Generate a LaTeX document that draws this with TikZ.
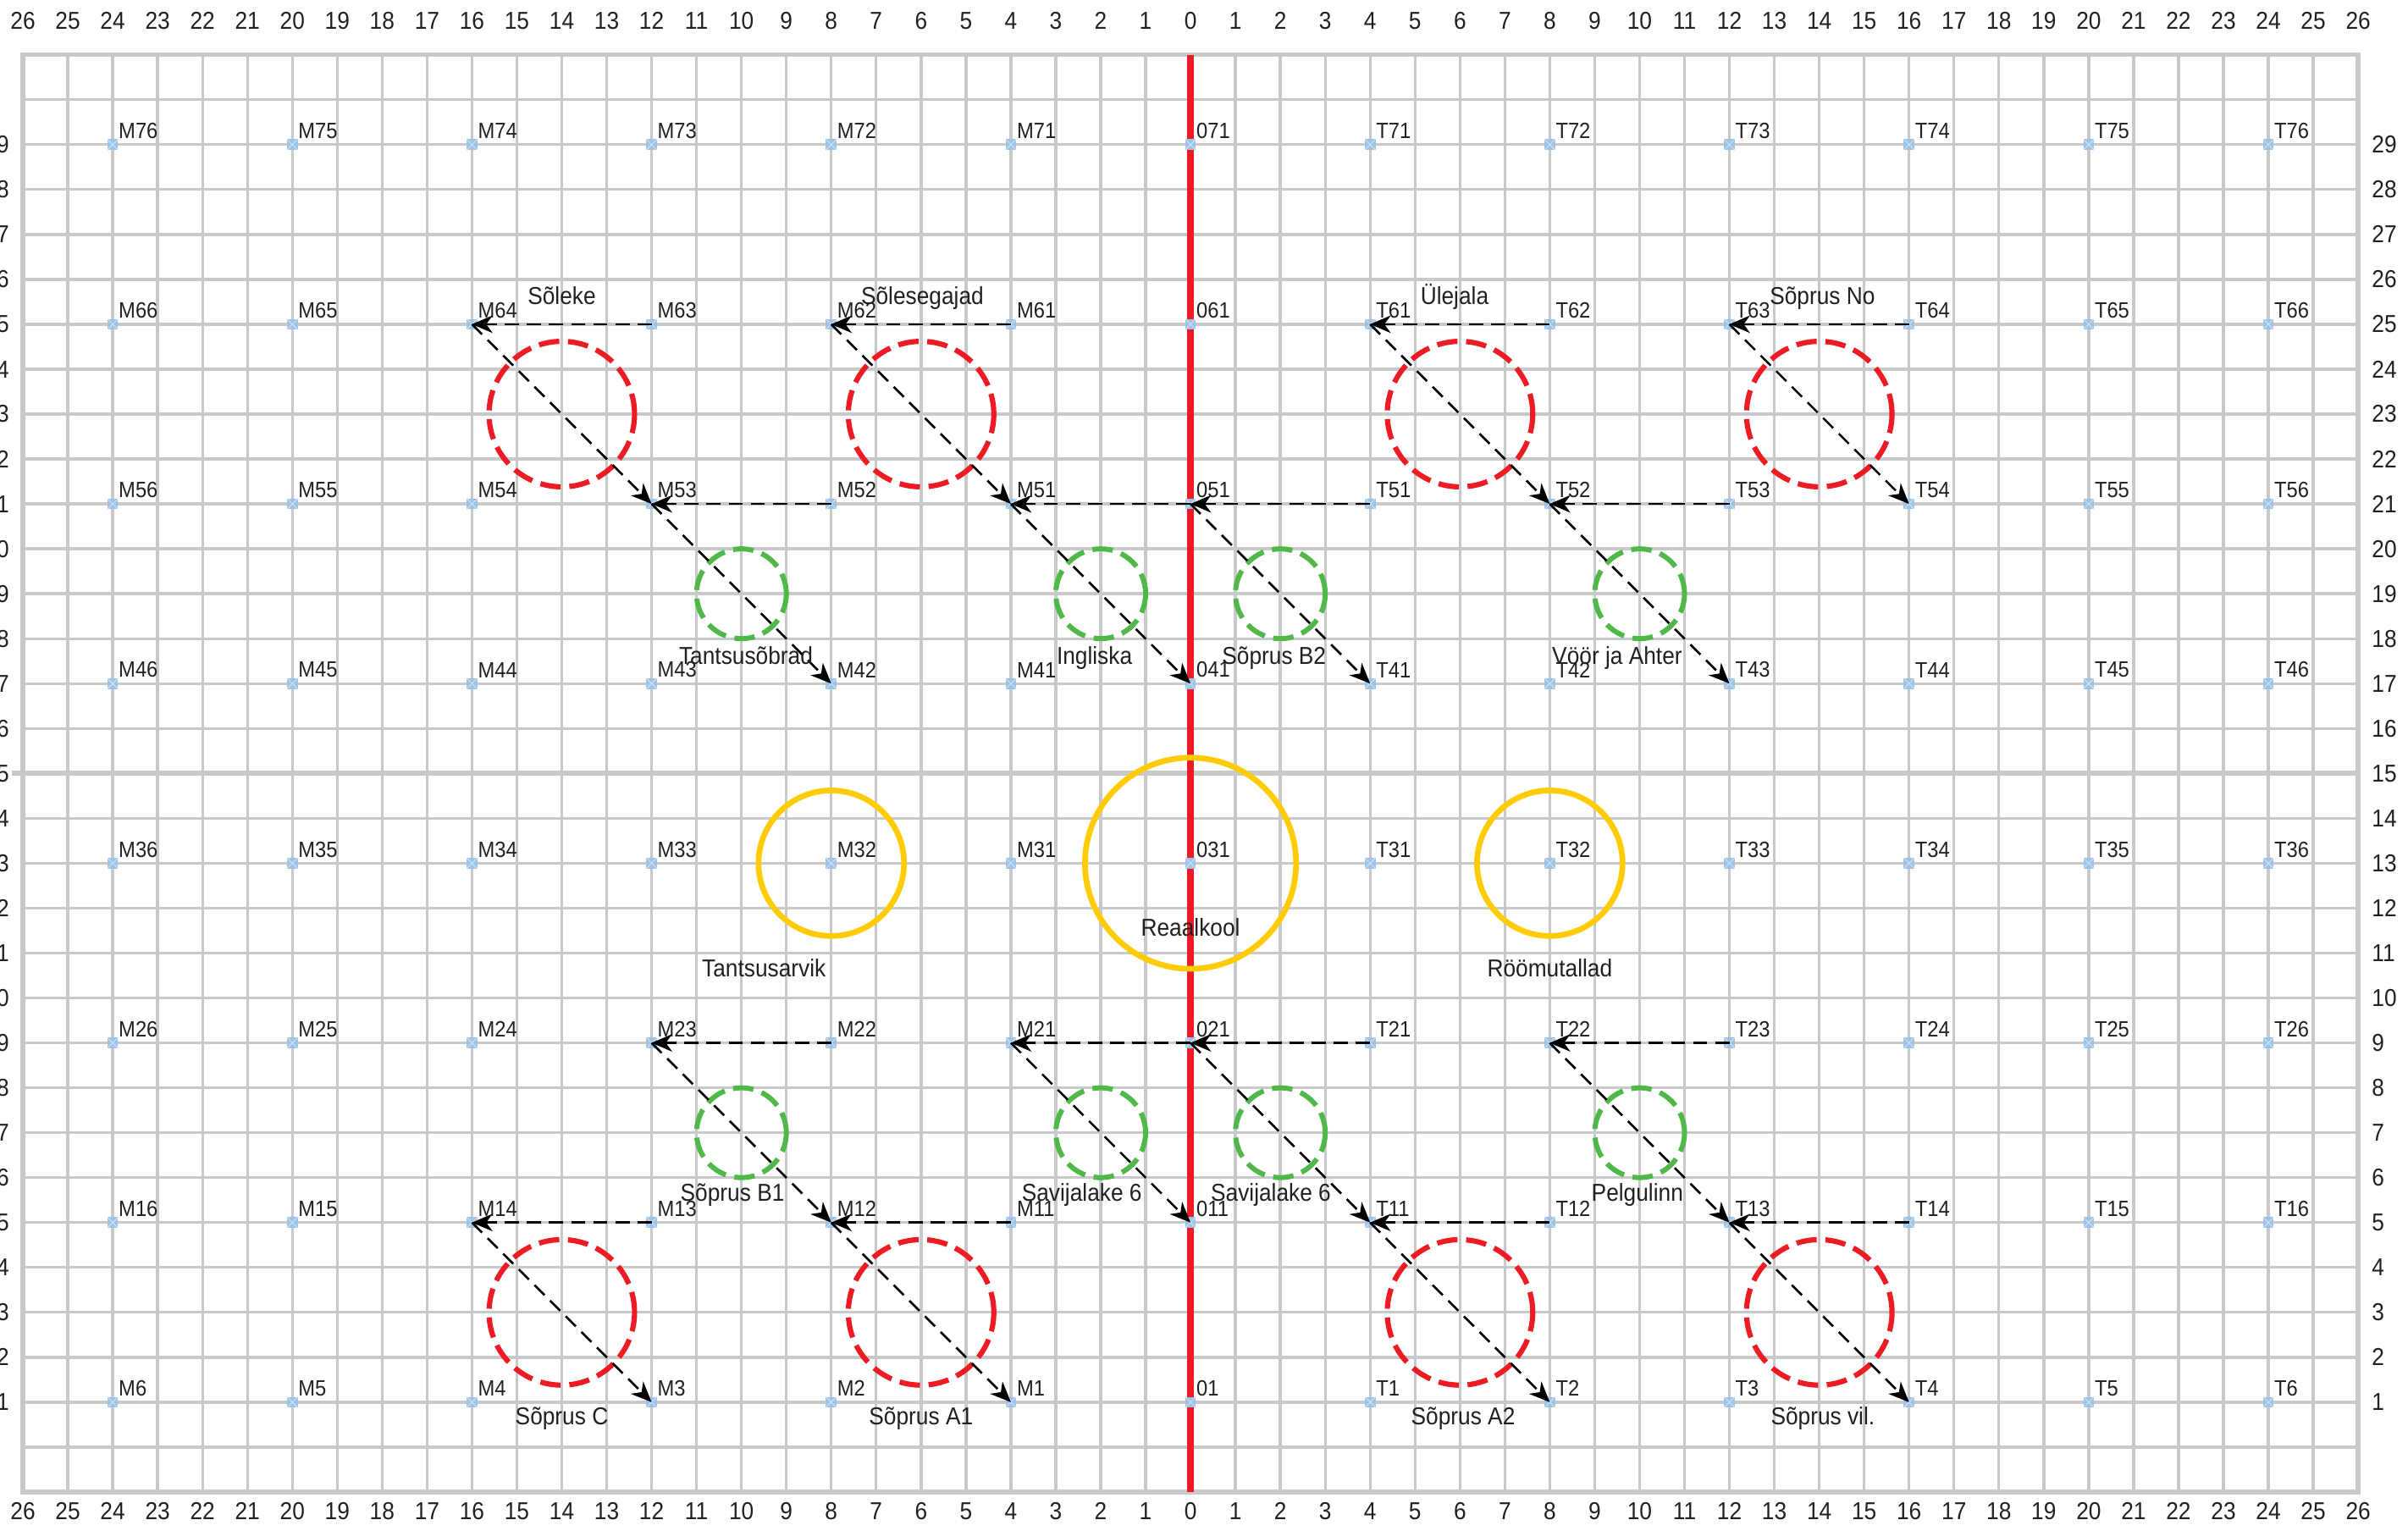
\documentclass[tikz,border=0pt]{standalone}
\usepackage{fontspec}
\setmainfont{Liberation Sans}[FakeStretch=0.91]
\usetikzlibrary{arrows.meta}
\definecolor{gridgray}{RGB}{200,201,202}
\definecolor{axisred}{RGB}{237,28,36}
\definecolor{zonegreen}{RGB}{80,184,72}
\definecolor{zoneyellow}{RGB}{255,203,5}
\definecolor{ptblue}{RGB}{157,195,230}
\definecolor{txt}{RGB}{35,31,32}

\begin{document}
\begin{tikzpicture}[
  every node/.style={text=txt},
  gridline/.style={draw=gridgray,line width=1.8pt},
  frame/.style={draw=gridgray,line width=3pt},
  axlbl/.style={font=\fontsize{15.5}{16}\selectfont,inner sep=0pt},
  ptlbl/.style={font=\fontsize{14}{15}\selectfont,inner sep=0pt},
  zonelbl/.style={font=\fontsize{15.5}{16}\selectfont,inner sep=0pt,anchor=base},
  pt/.style={rectangle,fill=ptblue,minimum size=0.24cm,inner sep=0pt,
    path picture={\draw[white!55!ptblue,line width=0.5pt]
      (path picture bounding box.south west) -- (path picture bounding box.north east)
      (path picture bounding box.north west) -- (path picture bounding box.south east);}},
  flow/.style={-{Stealth[length=13pt,width=11pt,inset=4pt]},line width=1.4pt,dash pattern=on 9pt off 5pt},
  redzone/.style={draw=axisred,line width=3.3pt,dash pattern=on 13pt off 5.5pt},
  greenzone/.style={draw=zonegreen,line width=3.2pt,dash pattern=on 13pt off 5.5pt},
  yellowzone/.style={draw=zoneyellow,line width=3.6pt}
]
\useasboundingbox (-26.51,-1.85) rectangle (27.11,32.22);

\draw[gridline] (-26,-1) grid (26,31);
\draw[frame] (-26,-1) rectangle (26,31);
\draw[frame,line width=3.4pt] (-26.25,15) -- (26,15);
\draw[draw=axisred,line width=3.9pt] (0,31) -- (0,-1);

\foreach \i in {-26,...,26} {
  \pgfmathtruncatemacro{\n}{abs(\i)}
  \pgfmathtruncatemacro{\k}{\i+26}
  \node[axlbl] (xt\k) at (\i,31.75) {\n};
  \node[axlbl] (xb\k) at (\i,-1.43) {\n};
}
\foreach \j in {1,...,29} {
  \node[axlbl,anchor=west] (yr\j) at (26.3,\j) {\j};
  \node[axlbl,anchor=east] (yl\j) at (-26.3,\j) {\j};
}

\foreach \x in {-14,-6,6,14} { \draw[redzone] (\x,23) circle (1.62); \draw[redzone] (\x,3) circle (1.62); }
\foreach \x in {-10,-2,2,10} { \draw[greenzone] (\x,19) circle (1); \draw[greenzone] (\x,7) circle (1); }
\draw[yellowzone] (-8,13) circle (1.62);
\draw[yellowzone] (0,13) circle (2.35);
\draw[yellowzone] (8,13) circle (1.62);

\foreach \r/\y in {0/1,1/5,2/9,3/13,4/17,5/21,6/25,7/29} {
  \ifnum\r=0 \def\pre{}\else \edef\pre{\r}\fi
  \node[pt,label={[ptlbl]north east:0\pre1}] (0\pre1) at (0,\y) {};
  \foreach \k in {1,...,6} {
    \node[pt,label={[ptlbl]north east:M\pre\k}] (M\pre\k) at (-4*\k,\y) {};
    \node[pt,label={[ptlbl]north east:T\pre\k}] (T\pre\k) at (4*\k,\y) {};
  }
}

\foreach \a/\b in {M63/M64,M64/M53,M52/M53,M53/M42,M61/M62,M62/M51,051/M51,M51/041,
  T51/051,051/T41,T62/T61,T61/T52,T53/T52,T52/T43,T64/T63,T63/T54,
  M22/M23,M23/M12,M13/M14,M14/M3,M11/M12,M12/M1,021/M21,M21/011,
  T21/021,021/T11,T12/T11,T11/T2,T23/T22,T22/T13,T14/T13,T13/T4} { \draw[flow] (\a.center) -- (\b.center); }

\node[zonelbl] (soleke)       at (-14,25.45)   {Sõleke};
\node[zonelbl] (solesegajad)  at (-5.97,25.45) {Sõlesegajad};
\node[zonelbl] (ulejala)      at (5.88,25.45)  {Ülejala};
\node[zonelbl] (soprusno)     at (14.07,25.45) {Sõprus No};
\node[zonelbl] (tantsusobrad) at (-9.9,17.43)  {Tantsusõbrad};
\node[zonelbl] (ingliska)     at (-2.14,17.43) {Ingliska};
\node[zonelbl] (soprusb2)     at (1.86,17.43)  {Sõprus B2};
\node[zonelbl] (vooraht)      at (9.5,17.43)   {Vöör ja Ahter};
\node[zonelbl] (tantsusarvik) at (-9.5,10.47)  {Tantsusarvik};
\node[zonelbl] (reaalkool)    at (0,11.38)     {Reaalkool};
\node[zonelbl] (roomutallad)  at (8,10.47)     {Röömutallad};
\node[zonelbl] (soprusb1)     at (-10.2,5.47)  {Sõprus B1};
\node[zonelbl] (savijalakem)  at (-2.42,5.47)  {Savijalake 6};
\node[zonelbl] (savijalaket)  at (1.79,5.47)   {Savijalake 6};
\node[zonelbl] (pelgulinn)    at (9.95,5.47)   {Pelgulinn};
\node[zonelbl] (soprusc)      at (-14,0.49)    {Sõprus C};
\node[zonelbl] (soprusa1)     at (-6,0.49)     {Sõprus A1};
\node[zonelbl] (soprusa2)     at (6.07,0.49)   {Sõprus A2};
\node[zonelbl] (soprusvil)    at (14.08,0.49)  {Sõprus vil.};

\end{tikzpicture}
\end{document}
